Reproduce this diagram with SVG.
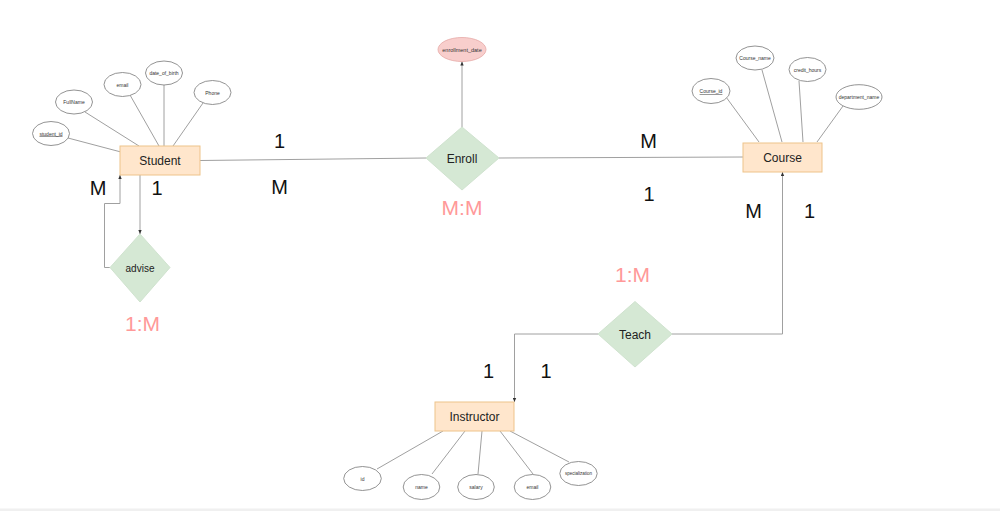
<svg xmlns="http://www.w3.org/2000/svg" width="1000" height="511" viewBox="0 0 1000 511">
<style>
text{font-family:"Liberation Sans",Arial,sans-serif;text-anchor:middle;dominant-baseline:central}
.ent{fill:#ffe6cc;stroke:#eec38a;stroke-width:1}
.rel{fill:#d5e8d4;stroke:#d0e3cf;stroke-width:1}
.att{fill:#fff;stroke:#777;stroke-width:0.8}
.key{fill:#f8cecc;stroke:#e6a8a6;stroke-width:0.8}
.et{font-size:12px;fill:#222}
.at{font-size:5px;fill:#333}
.card{font-size:20px;fill:#111}
.ratio{font-size:21px;fill:#ff9999}
.ln{stroke:#a0a0a0;stroke-width:1;fill:none}
</style>
<defs>
<marker id="arr" viewBox="0 0 6 6" refX="6" refY="3" markerWidth="4" markerHeight="4" orient="auto">
<path d="M0,0.5 L6,3 L0,5.5 z" fill="#333"/>
</marker>
</defs>
<rect width="1000" height="511" fill="#fff"/>
<rect x="0" y="508.5" width="1000" height="2.5" fill="#f0f0f0"/>
<g id="connectors">
<line class="ln" x1="68" y1="138" x2="121" y2="152"/>
<line class="ln" x1="85" y1="112" x2="139" y2="146"/>
<line class="ln" x1="130" y1="95" x2="159" y2="146"/>
<line class="ln" x1="164" y1="85" x2="164" y2="146"/>
<line class="ln" x1="203" y1="103" x2="173" y2="146"/>
<line class="ln" x1="726" y1="97" x2="759" y2="142"/>
<line class="ln" x1="762" y1="70" x2="782" y2="142"/>
<line class="ln" x1="799" y1="81" x2="803" y2="142"/>
<line class="ln" x1="843" y1="106" x2="817" y2="142"/>
<line class="ln" x1="377" y1="469" x2="443" y2="431"/>
<line class="ln" x1="432" y1="474" x2="465" y2="431"/>
<line class="ln" x1="478" y1="474" x2="482" y2="431"/>
<line class="ln" x1="533" y1="474" x2="500" y2="431"/>
<line class="ln" x1="569" y1="462" x2="510" y2="431"/>
<line class="ln" x1="200" y1="160.5" x2="426" y2="158"/>
<line class="ln" x1="499" y1="158" x2="743" y2="157"/>
<line class="ln" x1="462" y1="127" x2="462" y2="61.5" marker-end="url(#arr)"/>
<polyline class="ln" points="140,175 140,234" marker-end="url(#arr)"/>
<polyline class="ln" points="110,267.5 104.5,267.5 104.5,203.5 120,203.5 120,175" marker-end="url(#arr)"/>
<polyline class="ln" points="672,334 782.5,334 782.5,172" marker-end="url(#arr)"/>
<polyline class="ln" points="598,334 514.5,334 514.5,402" marker-end="url(#arr)"/>
</g>
<g id="student">
<rect class="ent" x="120" y="146" width="80" height="29"/>
<text class="et" x="160" y="160.5">Student</text>
</g>
<g id="student_id">
<ellipse class="att" cx="51" cy="133.5" rx="18.5" ry="12"/>
<text class="at" x="51" y="133.5" text-decoration="underline">student_id</text>
</g>
<g id="fullname">
<ellipse class="att" cx="74" cy="102" rx="18.5" ry="12"/>
<text class="at" x="74" y="102">FullName</text>
</g>
<g id="email_s">
<ellipse class="att" cx="122.5" cy="84.5" rx="18.5" ry="12"/>
<text class="at" x="122.5" y="84.5">email</text>
</g>
<g id="date_of_birth">
<ellipse class="att" cx="164" cy="73" rx="18.5" ry="12"/>
<text class="at" x="164" y="73">date_of_birth</text>
</g>
<g id="phone">
<ellipse class="att" cx="212.5" cy="92.5" rx="18.5" ry="12"/>
<text class="at" x="212.5" y="92.5">Phone</text>
</g>
<g id="enroll">
<polygon class="rel" points="462,127 499,158 462,190 426,158"/>
<text class="et" x="462" y="158.5">Enroll</text>
</g>
<g id="enrollment_date">
<ellipse class="key" cx="462" cy="49.5" rx="24" ry="12"/>
<text style="font-size:5.5px;fill:#333" x="462" y="49.5">enrollment_date</text>
</g>
<g id="course">
<rect class="ent" x="743" y="143" width="79" height="29"/>
<text class="et" x="782.5" y="157.5">Course</text>
</g>
<g id="course_id">
<ellipse class="att" cx="711" cy="91" rx="19" ry="12.5"/>
<text class="at" x="711" y="91" text-decoration="underline">Course_id</text>
</g>
<g id="course_name">
<ellipse class="att" cx="755" cy="58" rx="19" ry="12"/>
<text class="at" x="755" y="58">Course_name</text>
</g>
<g id="credit_hours">
<ellipse class="att" cx="807.5" cy="69.5" rx="18.5" ry="12"/>
<text class="at" x="807.5" y="69.5">credit_hours</text>
</g>
<g id="department_name">
<ellipse class="att" cx="859" cy="97" rx="23" ry="12.3"/>
<text class="at" x="859" y="97">department_name</text>
</g>
<g id="advise">
<polygon class="rel" points="140,234 170,267.5 140,302 110,267.5"/>
<text style="font-size:10px;fill:#222" x="140" y="268">advise</text>
</g>
<g id="teach">
<polygon class="rel" points="635,301.5 672,334 635,367 598,334"/>
<text class="et" x="635" y="334.5">Teach</text>
</g>
<g id="instructor">
<rect class="ent" x="435" y="402" width="79" height="29"/>
<text class="et" x="474.5" y="417">Instructor</text>
</g>
<g id="id">
<ellipse class="att" cx="362.5" cy="478.5" rx="18.8" ry="12"/>
<text class="at" x="362.5" y="478.5">id</text>
</g>
<g id="name">
<ellipse class="att" cx="421.5" cy="487" rx="18.3" ry="12.5"/>
<text class="at" x="421.5" y="487">name</text>
</g>
<g id="salary">
<ellipse class="att" cx="476" cy="487" rx="18.3" ry="12.5"/>
<text class="at" x="476" y="487">salary</text>
</g>
<g id="email_i">
<ellipse class="att" cx="532.5" cy="487" rx="18.3" ry="12.5"/>
<text class="at" x="532.5" y="487">email</text>
</g>
<g id="specialization">
<ellipse class="att" cx="578.5" cy="473.5" rx="18.7" ry="12"/>
<text style="font-size:4.5px;fill:#333" x="578.5" y="473.5">specialization</text>
</g>
<g id="labels">
<text class="card" x="279.5" y="141">1</text>
<text class="card" x="279.5" y="187">M</text>
<text class="card" x="648.5" y="141">M</text>
<text class="card" x="649" y="193.5">1</text>
<text class="card" x="753.5" y="210.5">M</text>
<text class="card" x="809.5" y="210.5">1</text>
<text class="card" x="488.5" y="370.5">1</text>
<text class="card" x="546" y="370.5">1</text>
<text class="card" x="98" y="188">M</text>
<text class="card" x="157" y="188">1</text>
<text class="ratio" x="462" y="207.5">M:M</text>
<text class="ratio" x="632.5" y="274.5">1:M</text>
<text class="ratio" x="142.5" y="323">1:M</text>
</g>
</svg>
